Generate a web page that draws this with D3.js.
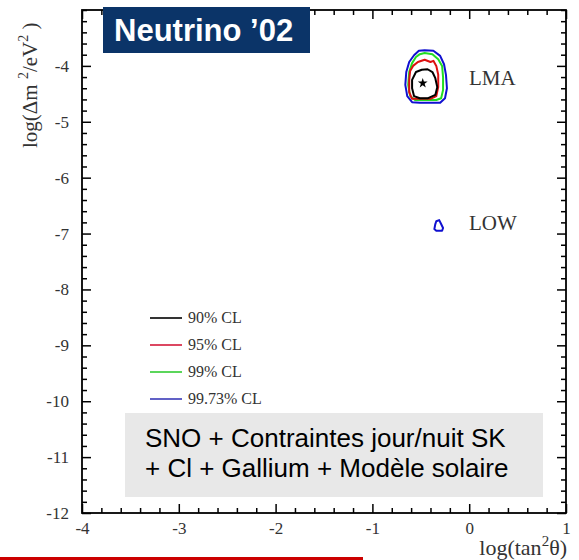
<!DOCTYPE html>
<html lang="fr">
  <head>
    <meta charset="UTF-8" />
    <title>Neutrino '02</title>
    <style>
      body { margin: 0; background: #fff; }
      svg { display: block; }
    </style>
    <script src="https://d3js.org/d3.v7.min.js"></script>
  </head>
  <body>
    <div class="chart"></div>
    <script>
      // axes
      var xTicks = [-4, -3, -2, -1, 0, 1]
      var yTicks = [-12, -11, -10, -9, -8, -7, -6, -5, -4]

      // contours (log tan^2, log dm^2)
      var lma90 = [[-0.55,-4.11],[-0.49,-4.07],[-0.43,-4.06],[-0.38,-4.11],[-0.35,-4.22],[-0.33,-4.38],[-0.35,-4.52],[-0.43,-4.58],[-0.51,-4.58],[-0.57,-4.54],[-0.59,-4.40],[-0.59,-4.25]]
      var lma95 = [[-0.58,-4.00],[-0.53,-3.93],[-0.46,-3.89],[-0.40,-3.93],[-0.37,-3.91],[-0.34,-4.00],[-0.32,-4.16],[-0.32,-4.38],[-0.34,-4.54],[-0.40,-4.59],[-0.51,-4.59],[-0.59,-4.59],[-0.62,-4.47],[-0.62,-4.25],[-0.61,-4.09]]
      var lma99 = [[-0.46,-3.77],[-0.38,-3.79],[-0.32,-3.88],[-0.28,-4.00],[-0.27,-4.20],[-0.27,-4.43],[-0.29,-4.58],[-0.34,-4.61],[-0.46,-4.61],[-0.56,-4.61],[-0.61,-4.54],[-0.63,-4.34],[-0.62,-4.11],[-0.59,-3.95],[-0.55,-3.84],[-0.51,-3.79]]
      var lma9973 = [[-0.46,-3.72],[-0.37,-3.73],[-0.30,-3.82],[-0.26,-3.97],[-0.24,-4.16],[-0.23,-4.40],[-0.25,-4.58],[-0.30,-4.66],[-0.41,-4.66],[-0.51,-4.66],[-0.59,-4.65],[-0.64,-4.54],[-0.66,-4.34],[-0.65,-4.11],[-0.62,-3.93],[-0.57,-3.81],[-0.52,-3.73]]
      var low9973 = [[-0.34,-6.78],[-0.31,-6.76],[-0.29,-6.83],[-0.27,-6.90],[-0.28,-6.95],[-0.34,-6.95],[-0.36,-6.92],[-0.35,-6.83]]
      var bestFit = [-0.48, -4.31]

      var legendLabels = ['90% CL', '95% CL', '99% CL', '99.73% CL']
      var legendColors = ['#000000', '#d41a3a', '#33cc33', '#3a3ab8']

      var width = 579
      var height = 560
      var serif = '"Liberation Serif", "Times New Roman", serif'
      var sans = '"Liberation Sans", Arial, sans-serif'

      var svg = d3.select('.chart').append('svg').attr('width', width).attr('height', height)

      var x = d3.scaleLinear().domain([-4, 1]).range([82, 566])
      var y = d3.scaleLinear().domain([-12, -3]).range([513, 10])

      var xMinor = d3.range(-40, 11, 2).map((d) => d / 10).filter((d) => xTicks.indexOf(d) < 0)
      var yMinor = d3.range(-120, -29, 2).map((d) => d / 10).filter((d) => yTicks.indexOf(d) < 0)

      // gray info box (drawn under frame)
      svg.append('rect').attr('x', 125).attr('y', 413).attr('width', 418).attr('height', 84).attr('fill', '#e8e8e8')
      var info = svg.append('g').attr('font-family', sans).attr('font-size', 26).attr('fill', '#000')
      info.append('text').attr('x', 145).attr('y', 447).text('SNO + Contraintes jour/nuit SK')
      info.append('text').attr('x', 145).attr('y', 477).text('+ Cl + Gallium + Modèle solaire')

      // axes, ticks inside the frame
      function addAxis(axisFn, scale, tr, major, minor, labels) {
        var g = svg.append('g').attr('transform', tr)
        g.call(axisFn(scale).tickValues(minor).tickSizeInner(-5).tickSizeOuter(0).tickFormat(''))
        var m = svg.append('g').attr('transform', tr)
        m.call(axisFn(scale).tickValues(major).tickSizeInner(-9).tickSizeOuter(0).tickPadding(13)
          .tickFormat(labels ? (d) => String(d) : ''))
        ;[g, m].forEach((s) => {
          s.select('.domain').remove()
          s.selectAll('line').attr('stroke', '#000').attr('stroke-width', 1.5)
        })
        m.selectAll('text').attr('font-family', serif).attr('font-size', 17).attr('fill', '#333')
        return m
      }
      addAxis(d3.axisLeft, y, 'translate(' + x(-4) + ',0)', yTicks, yMinor, true)
      addAxis(d3.axisRight, y, 'translate(' + x(1) + ',0)', yTicks, yMinor, false)
      var bx = addAxis(d3.axisBottom, x, 'translate(0,' + y(-12) + ')', xTicks, xMinor, true)
      bx.selectAll('text').attr('dy', '0.45em')
      addAxis(d3.axisTop, x, 'translate(0,' + y(-3) + ')', xTicks, xMinor, false)

      svg.append('rect')
        .attr('x', x(-4)).attr('y', y(-3))
        .attr('width', x(1) - x(-4)).attr('height', y(-12) - y(-3))
        .attr('fill', 'none').attr('stroke', '#000').attr('stroke-width', 1.8)

      // contours
      var contour = d3.line().x((d) => x(d[0])).y((d) => y(d[1])).curve(d3.curveLinearClosed)
      var contours = [
        { pts: lma9973, c: '#1010d0' },
        { pts: lma99, c: '#22dd22' },
        { pts: lma95, c: '#dd1010' },
        { pts: lma90, c: '#000000' },
        { pts: low9973, c: '#1010d0' }
      ]
      svg.append('g').selectAll('path').data(contours).enter().append('path')
        .attr('d', (d) => contour(d.pts))
        .attr('fill', 'none').attr('stroke', (d) => d.c).attr('stroke-width', 2)
        .attr('stroke-linejoin', 'round')

      svg.append('path')
        .attr('d', d3.symbol(d3.symbolStar, 30)())
        .attr('transform', 'translate(' + x(bestFit[0]) + ',' + y(bestFit[1]) + ')')
        .attr('fill', '#000')

      // region labels
      svg.append('text').attr('x', 469).attr('y', 85).attr('font-family', serif).attr('font-size', 21).attr('fill', '#333').text('LMA')
      svg.append('text').attr('x', 469).attr('y', 230).attr('font-family', serif).attr('font-size', 21).attr('fill', '#333').text('LOW')

      // legend
      var leg = svg.append('g').attr('class', 'legend').selectAll('g.item').data(legendLabels).enter().append('g')
        .attr('class', 'item')
        .attr('transform', (d, i) => 'translate(150,' + (318 + i * 27) + ')')
      leg.append('line').attr('x1', 0).attr('x2', 32).attr('y1', 0).attr('y2', 0)
        .attr('stroke', (d, i) => legendColors[i]).attr('stroke-width', 1.6)
      leg.append('text').attr('x', 38).attr('y', 5).attr('font-family', serif).attr('font-size', 16)
        .attr('fill', '#333').text((d) => d)

      // axis titles
      var xt = svg.append('text').attr('x', 567).attr('y', 555).attr('text-anchor', 'end')
        .attr('font-family', serif).attr('font-size', 22).attr('fill', '#333')
      xt.append('tspan').text('log(tan')
      xt.append('tspan').attr('dy', -9).attr('font-size', 15).text('2')
      xt.append('tspan').attr('dy', 9).text('θ)')

      var yt = svg.append('text').attr('transform', 'translate(37,148) rotate(-90)')
        .attr('font-family', serif).attr('font-size', 21).attr('fill', '#333')
      yt.append('tspan').text('log(Δm ')
      yt.append('tspan').attr('dy', -9).attr('font-size', 14).text('2')
      yt.append('tspan').attr('dy', 9).text('/eV')
      yt.append('tspan').attr('dy', -9).attr('font-size', 14).text('2')
      yt.append('tspan').attr('dy', 9).text(' )')

      // title badge
      svg.append('rect').attr('x', 103).attr('y', 7).attr('width', 207).attr('height', 46).attr('fill', '#0b3468')
      svg.append('text').attr('x', 114).attr('y', 41).attr('font-family', sans).attr('font-weight', 'bold')
        .attr('font-size', 31).attr('fill', '#fff').text('Neutrino ’02')

      // red bar at the bottom
      svg.append('rect').attr('x', 0).attr('y', 557).attr('width', 363).attr('height', 3).attr('fill', '#cc0000')
    </script>
  </body>
</html>
